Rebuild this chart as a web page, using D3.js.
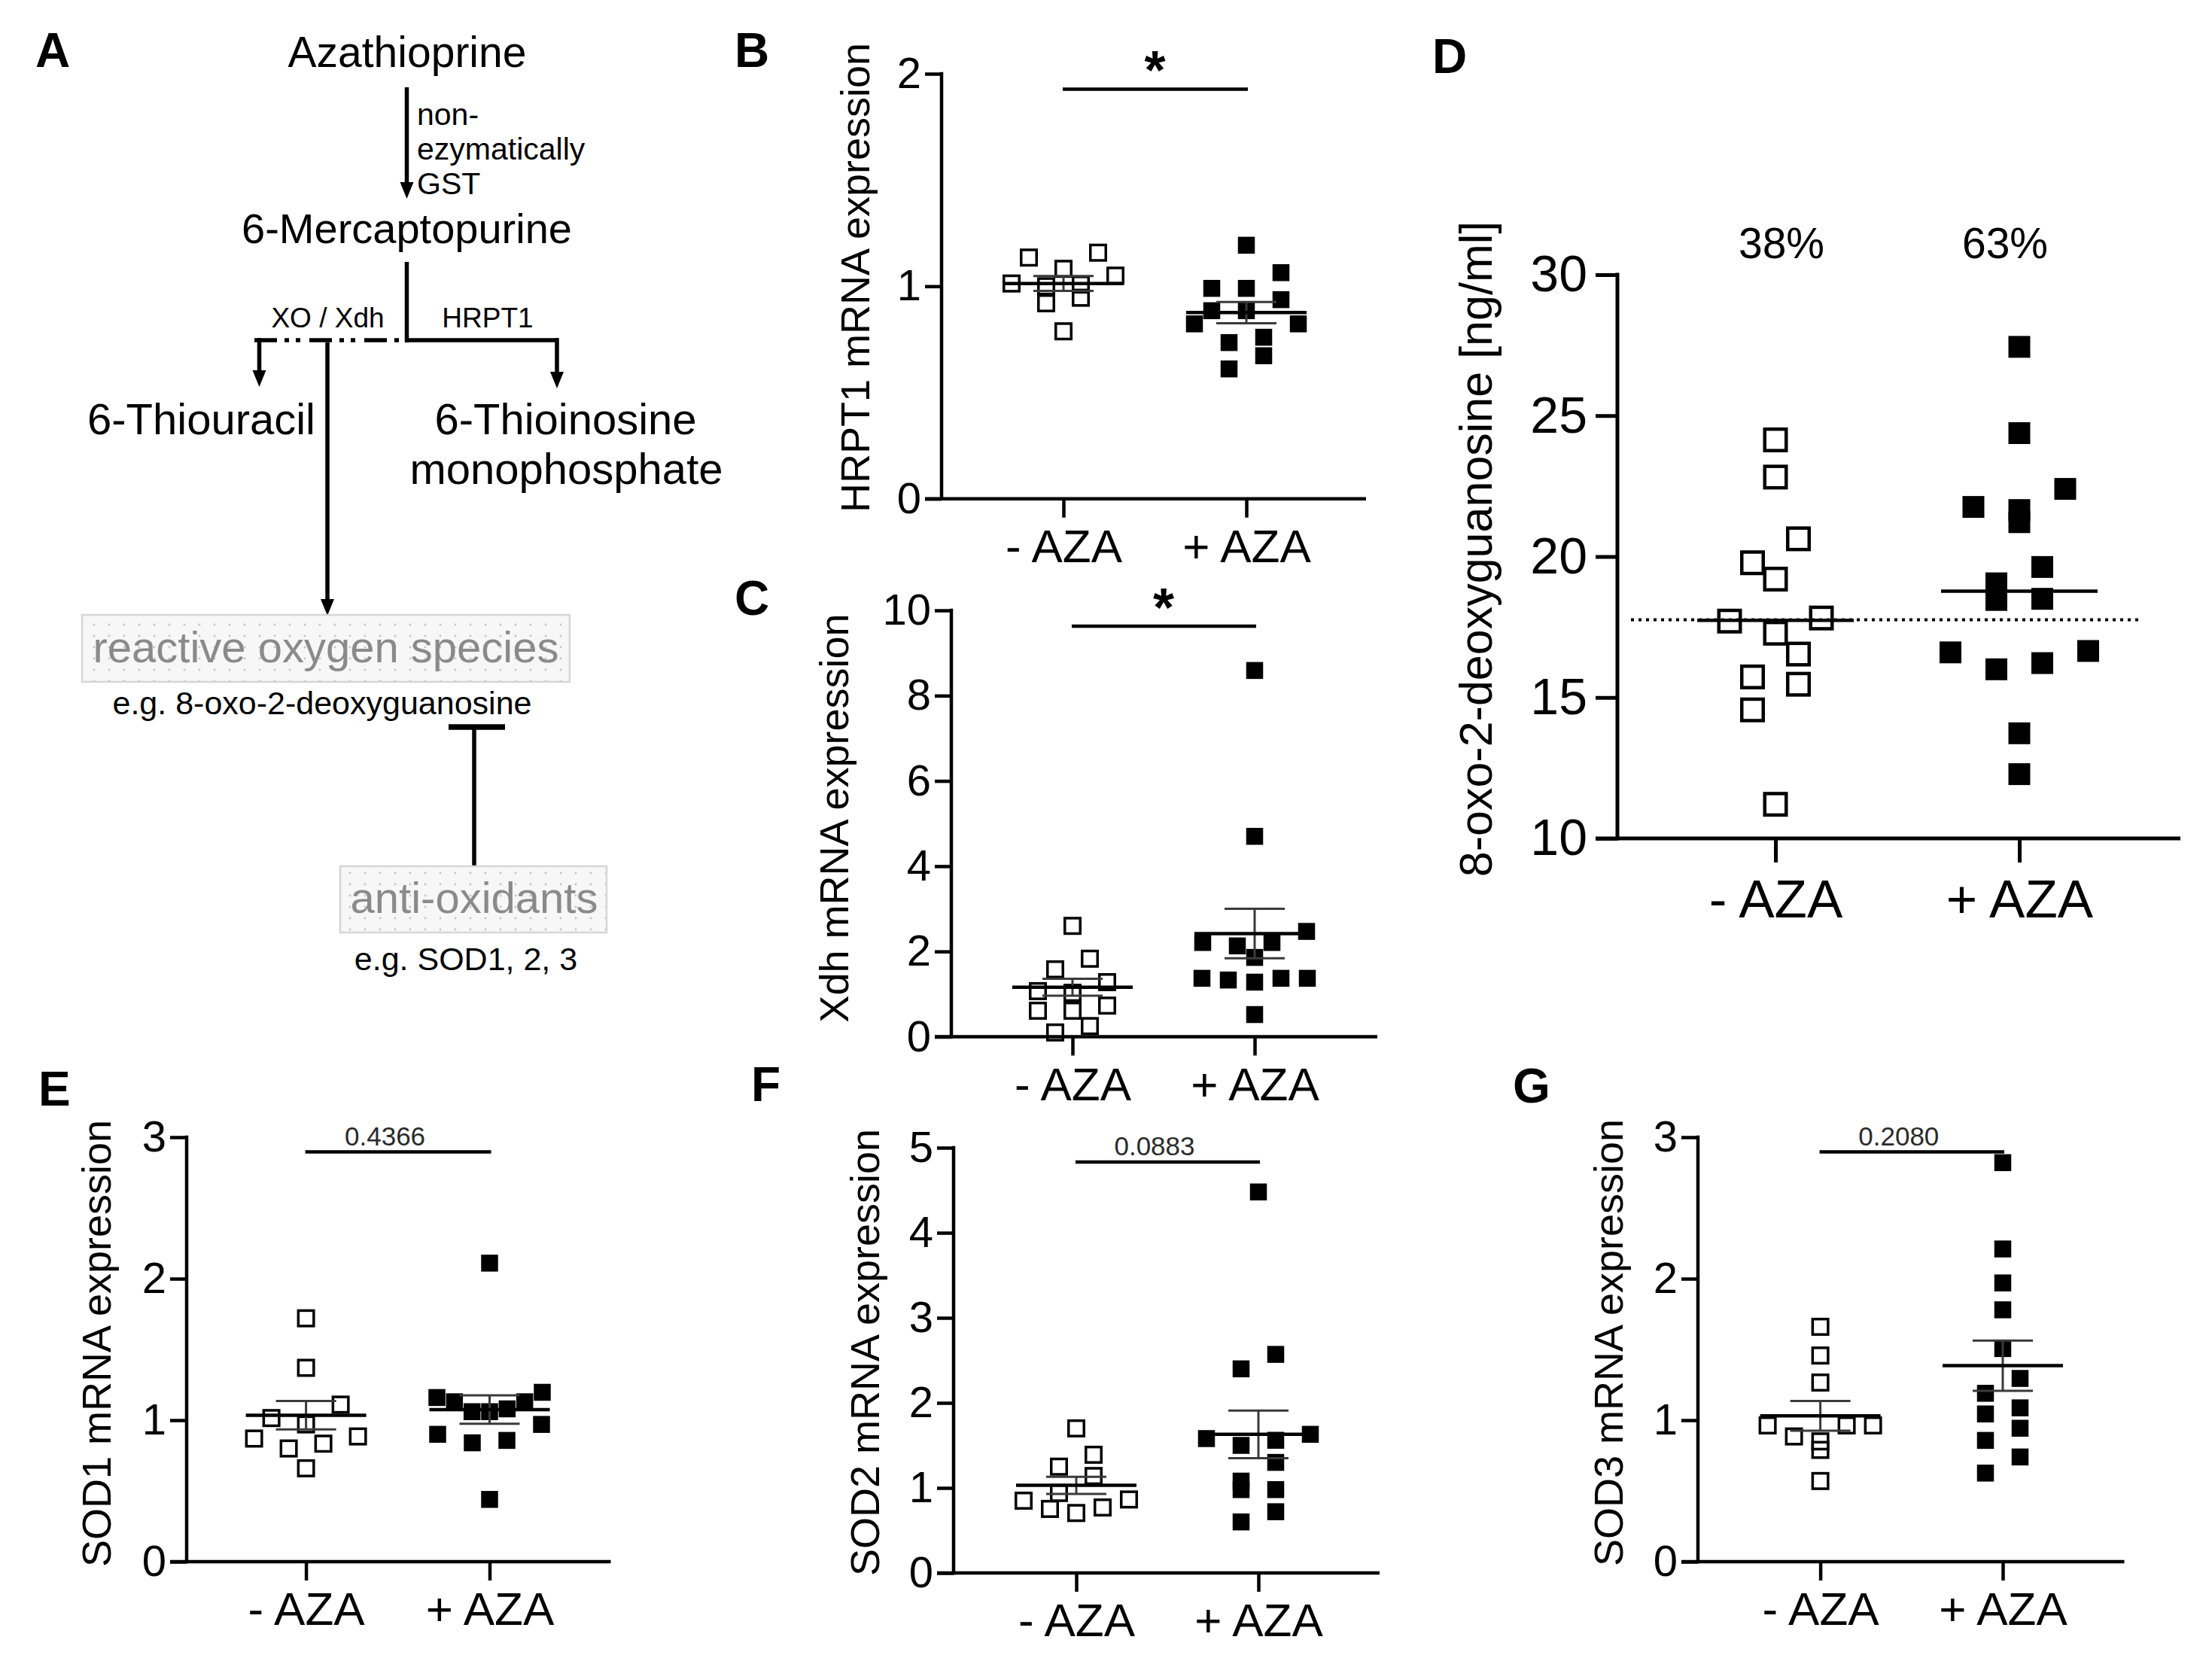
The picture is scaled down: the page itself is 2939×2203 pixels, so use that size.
<!DOCTYPE html>
<html>
<head>
<meta charset="utf-8">
<title>Azathioprine oxidative stress figure</title>
<script src="https://d3js.org/d3.v7.min.js"></script>
<style>
  body { margin: 0; background: #fff; }
  text { font-family: "Liberation Sans", Arial, Helvetica, sans-serif; }
</style>
</head>
<body>
<div id="chart"></div>
<script>
// ---- data ----
const groups = ["- AZA", "+ AZA"]

const hrpt1Minus = [1.158, 1.135, 1.082, 1.05, 1.013, 1.008, 1.0, 0.946, 0.92, 0.788]
const hrpt1Plus = [1.193, 1.064, 0.99, 0.99, 0.937, 0.885, 0.885, 0.823, 0.823, 0.76, 0.735, 0.673, 0.611]
const hrpt1Mean = [1.013, 0.876]
const hrpt1Sem = [0.035, 0.05]
const hrpt1Ticks = [0, 1, 2]

const xdhMinus = [2.6, 1.83, 1.58, 1.28, 1.07, 1.03, 0.73, 0.61, 0.61, 0.25, 0.1]
const xdhPlus = [8.59, 4.7, 2.47, 2.21, 2.21, 2.13, 1.86, 1.37, 1.37, 1.37, 1.33, 1.28, 0.52]
const xdhMean = [1.16, 2.42]
const xdhSem = [0.2, 0.58]
const xdhTicks = [0, 2, 4, 6, 8, 10]

const oxoMinus = [24.14, 22.82, 20.63, 19.78, 19.2, 17.82, 17.71, 17.28, 16.54, 15.73, 15.47, 14.56, 11.21]
const oxoPlus = [27.44, 24.38, 22.4, 21.76, 21.65, 21.22, 19.63, 19.05, 18.5, 18.46, 16.65, 16.6, 16.22, 16.0, 13.73, 12.28]
const oxoMedian = [17.74, 18.77]
const oxoCutoff = 17.76
const oxoPercent = ["38%", "63%"]
const oxoTicks = [10, 15, 20, 25, 30]

const sod1Minus = [1.72, 1.37, 1.11, 1.015, 0.97, 0.885, 0.87, 0.834, 0.8, 0.66]
const sod1Plus = [2.11, 1.197, 1.16, 1.13, 1.13, 1.08, 1.06, 1.06, 0.97, 0.9, 0.857, 0.84, 0.44]
const sod1Mean = [1.035, 1.075]
const sod1Sem = [0.1, 0.1]
const sod1Ticks = [0, 1, 2, 3]

const sod2Minus = [1.7, 1.39, 1.25, 1.14, 0.94, 0.864, 0.85, 0.77, 0.753, 0.705]
const sod2Plus = [4.48, 2.57, 2.4, 1.63, 1.58, 1.56, 1.5, 1.3, 1.08, 0.98, 0.98, 0.72, 0.6]
const sod2Mean = [1.03, 1.63]
const sod2Sem = [0.1, 0.28]
const sod2Ticks = [0, 1, 2, 3, 4, 5]

const sod3Minus = [1.66, 1.457, 1.266, 0.963, 0.963, 0.963, 0.885, 0.85, 0.79, 0.57]
const sod3Plus = [2.82, 2.21, 1.97, 1.78, 1.506, 1.295, 1.19, 1.087, 1.044, 0.943, 0.857, 0.74, 0.626]
const sod3Mean = [1.03, 1.385]
const sod3Sem = [0.105, 0.177]
const sod3Ticks = [0, 1, 2, 3]

const pLabels = ["*", "*", "0.4366", "0.0883", "0.2080"]

// ---- page ----
const W = 2939, H = 2203
const svg = d3.select("#chart").append("svg")
    .attr("width", W)
    .attr("height", H)
    .attr("viewBox", `0 0 ${W} ${H}`)

svg.append("rect").attr("width", W).attr("height", H).attr("fill", "#fff")

const defs = svg.append("defs")
const pat = defs.append("pattern")
    .attr("id", "dots")
    .attr("width", 20).attr("height", 15)
    .attr("patternUnits", "userSpaceOnUse")
pat.append("rect").attr("width", 20).attr("height", 15).attr("fill", "#f7f7f7")
pat.append("circle").attr("cx", 5).attr("cy", 5).attr("r", 1.4).attr("fill", "#c4c4c4")

// panel letters
const letters = [["A", 47, 89], ["B", 976, 89], ["C", 976, 817], ["D", 1903, 97],
                 ["E", 51, 1469], ["F", 998, 1463], ["G", 2010, 1465]]
svg.selectAll("text.letter")
    .data(letters)
    .enter()
    .append("text")
    .attr("class", "letter")
    .attr("x", d => d[1])
    .attr("y", d => d[2])
    .attr("font-size", 64)
    .attr("font-weight", "bold")
    .text(d => d[0])

// ---- panel A: pathway scheme ----
const A = svg.append("g")
const lw = 5.5

function line(g, x1, y1, x2, y2, w, dash) {
    const l = g.append("line")
        .attr("x1", x1).attr("y1", y1).attr("x2", x2).attr("y2", y2)
        .attr("stroke", "#000").attr("stroke-width", w || lw)
    if (dash) l.attr("stroke-dasharray", dash)
    return l
}
function arrowDown(g, x, tip) {
    g.append("path")
        .attr("d", `M${x - 9},${tip - 22} L${x + 9},${tip - 22} L${x},${tip} Z`)
        .attr("fill", "#000")
}
function label(g, x, y, size, txt, anchor, fill) {
    return g.append("text")
        .attr("x", x).attr("y", y)
        .attr("font-size", size)
        .attr("text-anchor", anchor || "middle")
        .attr("fill", fill || "#000")
        .text(txt)
}

label(A, 541, 89, 57, "Azathioprine")
line(A, 540.5, 116, 540.5, 246)
arrowDown(A, 540.5, 264)
label(A, 554, 166, 41, "non-", "start")
label(A, 554, 212, 41, "ezymatically", "start")
label(A, 554, 258, 41, "GST", "start")

label(A, 540.5, 323, 56, "6-Mercaptopurine")
line(A, 540.5, 348, 540.5, 455)
line(A, 538, 452, 740, 452)
line(A, 740, 449, 740, 495)
arrowDown(A, 740, 516)
line(A, 338, 452, 540, 452, lw, "30 10 6 9 6 12")
line(A, 344.5, 449, 344.5, 493)
arrowDown(A, 344.5, 514)
label(A, 435.5, 435, 37, "XO / Xdh")
label(A, 648, 435, 37, "HRPT1")

label(A, 267.5, 577, 58, "6-Thiouracil")
label(A, 751.5, 577, 58, "6-Thioinosine")
label(A, 752.5, 643, 58, "monophosphate")

line(A, 435, 455, 435, 798)
arrowDown(A, 435, 818)

A.append("rect")
    .attr("x", 109).attr("y", 817).attr("width", 648).attr("height", 89)
    .attr("fill", "url(#dots)").attr("stroke", "#d6d6d6").attr("stroke-width", 2.5)
label(A, 433, 880, 58, "reactive oxygen species", "middle", "#8a8a8a")
label(A, 428, 949, 43, "e.g. 8-oxo-2-deoxyguanosine")

line(A, 596, 966, 671, 966, 7.5)
line(A, 630, 966, 630, 1151)
A.append("rect")
    .attr("x", 452).attr("y", 1151).attr("width", 354).attr("height", 88)
    .attr("fill", "url(#dots)").attr("stroke", "#d6d6d6").attr("stroke-width", 2.5)
label(A, 630, 1213, 58, "anti-oxidants", "middle", "#8a8a8a")
label(A, 619, 1289, 43, "e.g. SOD1, 2, 3")

// ---- scatter panels ----
// rows of points closer than one symbol are spread side by side,
// outermost slots first (right, then left), like the original scatter plots
function swarm(values, y, size, step, maxSpan) {
    const order = d3.range(values.length).sort((a, b) => values[b] - values[a])
    const off = new Array(values.length).fill(0)
    let r = 0
    while (r < order.length) {
        const top = y(values[order[r]])
        let e = r
        while (e + 1 < order.length && y(values[order[e + 1]]) - top < size * 1.1) e++
        const n = e - r + 1
        const st = n > 1 ? Math.min(step, maxSpan / (n - 1)) : 0
        const slots = d3.range(n).map(i => (i - (n - 1) / 2) * st)
            .sort((a, b) => Math.abs(b) - Math.abs(a) || b - a)
        for (let i = 0; i < n; i++) off[order[r + i]] = slots[i]
        r = e + 1
    }
    return off
}

function drawPanel(c) {
    const g = svg.append("g")
    const y = d3.scaleLinear().domain([c.ticks[0], c.ticks[c.ticks.length - 1]]).range([c.y0, c.y1])
    const x = d3.scalePoint().domain(groups).range(c.cx)

    // y axis
    const ya = g.append("g")
        .attr("transform", `translate(${c.x0},0)`)
        .call(d3.axisLeft(y).tickValues(c.ticks).tickFormat(d3.format("d"))
            .tickSize(c.tickY).tickPadding(c.padY).tickSizeOuter(0))
    ya.select(".domain").remove()
    ya.selectAll("line").attr("stroke-width", c.axisW)
    ya.selectAll("text").attr("font-size", c.fsTick).attr("font-family", "Liberation Sans, Arial, sans-serif")
    line(g, c.x0, c.y1 - c.axisW / 2, c.x0, c.y0 + c.axisW / 2, c.axisW)

    // x axis
    const xa = g.append("g")
        .attr("transform", `translate(0,${c.y0})`)
        .call(d3.axisBottom(x).tickSize(c.tickX).tickPadding(c.padX).tickSizeOuter(0))
    xa.select(".domain").remove()
    xa.selectAll("line").attr("stroke-width", c.axisW)
    xa.selectAll("text").attr("font-size", c.fsCat).attr("font-family", "Liberation Sans, Arial, sans-serif")
    line(g, c.x0 - c.tickY, c.y0, c.x1, c.y0, c.axisW)

    // y title
    g.append("text")
        .attr("transform", `translate(${c.titleX},${c.titleY}) rotate(-90)`)
        .attr("text-anchor", "middle")
        .attr("font-size", c.fsTitle)
        .text(c.title)

    // points
    const sets = [c.minus, c.plus]
    sets.forEach((vals, gi) => {
        const off = swarm(vals, y, c.outer, c.step, c.maxSpan)
        const cx = x(groups[gi])
        const s = gi === 0 ? c.openSize : c.fillSize
        g.selectAll(null)
            .data(vals)
            .enter()
            .append("rect")
            .attr("x", (d, i) => cx + off[i] - s / 2)
            .attr("y", d => y(d) - s / 2)
            .attr("width", s)
            .attr("height", s)
            .attr("fill", gi === 0 ? "none" : "#000")
            .attr("stroke", gi === 0 ? "#000" : "none")
            .attr("stroke-width", gi === 0 ? c.openStroke : 0)
    })

    // mean / sem (or median)
    groups.forEach((grp, gi) => {
        const cx = x(grp)
        if (c.sem) {
            const lo = y(c.mean[gi] - c.sem[gi]), hi = y(c.mean[gi] + c.sem[gi])
            g.append("line").attr("x1", cx).attr("x2", cx).attr("y1", lo).attr("y2", hi)
                .attr("stroke", "#3a3a3a").attr("stroke-width", 3)
            ;[lo, hi].forEach(yy => {
                g.append("line").attr("x1", cx - c.semHalf).attr("x2", cx + c.semHalf)
                    .attr("y1", yy).attr("y2", yy)
                    .attr("stroke", "#3a3a3a").attr("stroke-width", 3)
            })
        }
        g.append("line").attr("x1", cx - c.meanHalf).attr("x2", cx + c.meanHalf)
            .attr("y1", y(c.mean[gi])).attr("y2", y(c.mean[gi]))
            .attr("stroke", "#000").attr("stroke-width", 4.5)
    })

    // significance bar
    if (c.p !== undefined) {
        line(g, c.cx[0] - 1, c.sigY, c.cx[1] + 2, c.sigY, 4.5)
        const mid = (c.cx[0] + c.cx[1]) / 2
        if (c.p === "*") {
            g.append("text").attr("x", mid).attr("y", c.sigY)
                .attr("text-anchor", "middle").attr("font-size", 72).attr("font-weight", "bold")
                .text(c.p)
        } else {
            g.append("text").attr("x", mid - 17).attr("y", c.sigY - 9)
                .attr("text-anchor", "middle").attr("font-size", 35).attr("fill", "#2a2a2a")
                .text(c.p)
        }
    }
    return { g, x, y }
}

const small = {
    tickY: 22, padY: 5, tickX: 25, padX: 15, axisW: 4.5,
    fsTick: 58, fsCat: 62, fsTitle: 54,
    openSize: 20.5, openStroke: 3.5, fillSize: 22.5, outer: 24, step: 46, maxSpan: 140,
    meanHalf: 80, semHalf: 40
}

drawPanel(Object.assign({}, small, {
    minus: hrpt1Minus, plus: hrpt1Plus, mean: hrpt1Mean, sem: hrpt1Sem, ticks: hrpt1Ticks,
    title: "HRPT1 mRNA expression", p: pLabels[0],
    x0: 1251, x1: 1815, y0: 662.7, y1: 98, cx: [1413, 1656], titleX: 1155, titleY: 369, sigY: 118.4
}))
drawPanel(Object.assign({}, small, {
    minus: xdhMinus, plus: xdhPlus, mean: xdhMean, sem: xdhSem, ticks: xdhTicks,
    title: "Xdh mRNA expression", p: pLabels[1],
    x0: 1264, x1: 1830, y0: 1377.5, y1: 811, cx: [1425, 1667], titleX: 1127, titleY: 1087, sigY: 832
}))
drawPanel(Object.assign({}, small, {
    minus: sod1Minus, plus: sod1Plus, mean: sod1Mean, sem: sod1Sem, ticks: sod1Ticks,
    title: "SOD1 mRNA expression", p: pLabels[2],
    x0: 248, x1: 811.5, y0: 2075, y1: 1511, cx: [406.6, 650.5], titleX: 147, titleY: 1785, sigY: 1530.5
}))
drawPanel(Object.assign({}, small, {
    minus: sod2Minus, plus: sod2Plus, mean: sod2Mean, sem: sod2Sem, ticks: sod2Ticks,
    title: "SOD2 mRNA expression", p: pLabels[3],
    x0: 1267, x1: 1833, y0: 2090, y1: 1525, cx: [1430, 1672], titleX: 1168, titleY: 1797, sigY: 1544
}))
drawPanel(Object.assign({}, small, {
    minus: sod3Minus, plus: sod3Plus, mean: sod3Mean, sem: sod3Sem, ticks: sod3Ticks,
    title: "SOD3 mRNA expression", p: pLabels[4],
    x0: 2256, x1: 2822.5, y0: 2075, y1: 1511, cx: [2418.6, 2661], titleX: 2156, titleY: 1784, sigY: 1530.5
}))

// panel D: median only, dotted cut-off line
const D = drawPanel({
    tickY: 29, padY: 11, tickX: 32, padX: 23, axisW: 5,
    fsTick: 68, fsCat: 71, fsTitle: 61,
    openSize: 28.5, openStroke: 4.5, fillSize: 29, outer: 33, step: 61, maxSpan: 184,
    meanHalf: 104,
    minus: oxoMinus, plus: oxoPlus, mean: oxoMedian, ticks: oxoTicks,
    title: "8-oxo-2-deoxyguanosine [ng/ml]",
    x0: 2149, x1: 2897, y0: 1114, y1: 365, cx: [2359, 2683], titleX: 1982, titleY: 729.5
})
D.g.append("line")
    .attr("x1", 2167).attr("x2", 2846)
    .attr("y1", D.y(oxoCutoff)).attr("y2", D.y(oxoCutoff))
    .attr("stroke", "#000").attr("stroke-width", 4)
    .attr("stroke-dasharray", "4 6")
D.g.selectAll("text.pct")
    .data(oxoPercent)
    .enter()
    .append("text")
    .attr("class", "pct")
    .attr("x", (d, i) => D.x(groups[i]) + (i === 0 ? 8 : -19))
    .attr("y", 343)
    .attr("text-anchor", "middle")
    .attr("font-size", 57)
    .text(d => d)
</script>
</body>
</html>
